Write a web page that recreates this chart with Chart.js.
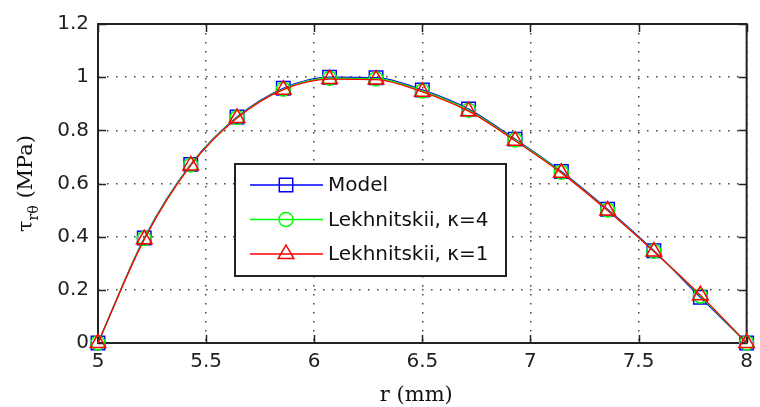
<!DOCTYPE html>
<html>
<head>
<meta charset="utf-8">
<script src="https://cdn.jsdelivr.net/npm/chart.js@4/dist/chart.umd.min.js"></script>
<style>
  body { margin: 0; background: #fff; }
  #wrap { width: 760px; height: 407px; position: relative; }
</style>
</head>
<body>
<div id="wrap"><canvas id="myChart"></canvas></div>
<script>
// r positions of the plotted markers (mm)
const r = [5, 5.214, 5.429, 5.643, 5.857, 6.071, 6.286, 6.5, 6.714, 6.929, 7.143, 7.357, 7.571, 7.786, 8];
const model = [0, 0.395, 0.672, 0.850, 0.958, 1.000, 0.998, 0.952, 0.880, 0.767, 0.645, 0.503, 0.347, 0.172, 0];
const lek4 = [0, 0.393, 0.670, 0.848, 0.955, 0.996, 0.994, 0.948, 0.876, 0.764, 0.642, 0.500, 0.345, 0.177, 0];
const lek1 = [0, 0.390, 0.668, 0.846, 0.953, 0.993, 0.991, 0.945, 0.872, 0.761, 0.640, 0.498, 0.344, 0.180, 0];
const xTicks = [5, 5.5, 6, 6.5, 7, 7.5, 8];
const yTicks = [0, 0.2, 0.4, 0.6, 0.8, 1, 1.2];
const seriesNames = ["Model", "Lekhnitskii, \u03ba=4", "Lekhnitskii, \u03ba=1"];

const toPts = (ys) => r.map((x, i) => ({ x: x, y: ys[i] }));

const styles = [
    { color: "#0000ff", point: "rect", radius: 9.5 },
    { color: "#00ff00", point: "circle", radius: 7 },
    { color: "#ff0000", point: "triangle", radius: 9 },
];

function makeSet(i, ys) {
    const s = styles[i];
    return {
        label: seriesNames[i],
        data: toPts(ys),
        borderColor: s.color,
        backgroundColor: s.color,
        borderWidth: 1.3,
        pointStyle: s.point,
        pointRadius: s.radius,
        pointBorderWidth: 1.5,
        pointBorderColor: s.color,
        pointBackgroundColor: "rgba(0,0,0,0)",
        cubicInterpolationMode: "monotone",
        clip: false,
        order: 2 - i, // red drawn last (on top)
    };
}

function drawMarker(ctx, style, x, y, rad) {
    ctx.beginPath();
    if (style === "rect") {
        const h = rad * Math.SQRT1_2;
        ctx.rect(x - h, y - h, 2 * h, 2 * h);
    } else if (style === "circle") {
        ctx.arc(x, y, rad, 0, Math.PI * 2);
    } else {
        ctx.moveTo(x, y - rad);
        ctx.lineTo(x + rad * 0.866, y + rad / 2);
        ctx.lineTo(x - rad * 0.866, y + rad / 2);
        ctx.closePath();
    }
    ctx.stroke();
}

// axes box with inward ticks, axis titles
const boxPlugin = {
    id: "matlabBox",
    beforeDatasetsDraw(chart) {
        const { ctx, chartArea: a, scales } = chart;
        ctx.save();
        ctx.strokeStyle = "#222";
        ctx.lineWidth = 2;
        ctx.strokeRect(a.left, a.top, a.right - a.left, a.bottom - a.top);
        ctx.lineWidth = 1.5;
        ctx.beginPath();
        xTicks.forEach((v) => {
            const px = Math.round(scales.x.getPixelForValue(v)) + 0.5;
            ctx.moveTo(px, a.bottom); ctx.lineTo(px, a.bottom - 8);
            ctx.moveTo(px, a.top); ctx.lineTo(px, a.top + 8);
        });
        yTicks.forEach((v) => {
            const py = Math.round(scales.y.getPixelForValue(v)) + 0.5;
            ctx.moveTo(a.left, py); ctx.lineTo(a.left + 8, py);
            ctx.moveTo(a.right, py); ctx.lineTo(a.right - 8, py);
        });
        ctx.stroke();

        // axis titles
        ctx.fillStyle = "#111";
        ctx.font = "21px 'DejaVu Serif'";
        ctx.textAlign = "center";
        ctx.textBaseline = "alphabetic";
        ctx.fillText("r (mm)", (a.left + a.right) / 2 - 6, 401);

        ctx.save();
        ctx.translate(32, (a.top + a.bottom) / 2);
        ctx.rotate(-Math.PI / 2);
        ctx.textAlign = "left";
        const main = "21px 'DejaVu Serif'", sub = "14px 'DejaVu Serif'";
        ctx.font = main;
        const wTau = ctx.measureText("\u03c4").width;
        const wTail = ctx.measureText(" (MPa)").width;
        ctx.font = sub;
        const wSub = ctx.measureText("r\u03b8").width;
        let x0 = -(wTau + wSub + wTail) / 2;
        ctx.font = main;
        ctx.fillText("\u03c4", x0, 0);
        ctx.font = sub;
        ctx.fillText("r\u03b8", x0 + wTau, 6);
        ctx.font = main;
        ctx.fillText(" (MPa)", x0 + wTau + wSub, 0);
        ctx.restore();
        ctx.restore();
    },
    afterDraw(chart) {
        const ctx = chart.ctx;
        const L = 235, T = 164, W = 271, H = 112;
        ctx.save();
        ctx.fillStyle = "#fff";
        ctx.fillRect(L, T, W, H);
        ctx.strokeStyle = "#222";
        ctx.lineWidth = 2;
        ctx.strokeRect(L, T, W, H);
        ctx.font = "20px 'DejaVu Sans'";
        ctx.textBaseline = "middle";
        ctx.textAlign = "left";
        seriesNames.forEach((name, i) => {
            const y = T + 21 + i * 34.5;
            const s = styles[i];
            ctx.strokeStyle = s.color;
            ctx.lineWidth = 1.5;
            ctx.beginPath();
            ctx.moveTo(L + 15, y); ctx.lineTo(L + 88, y);
            ctx.stroke();
            drawMarker(ctx, s.point, L + 51, y, s.radius);
            ctx.fillStyle = "#111";
            ctx.fillText(name, L + 93, y + 1);
        });
        ctx.restore();
    },
};

const config = {
    type: "line",
    data: {
        datasets: [makeSet(0, model), makeSet(1, lek4), makeSet(2, lek1)],
    },
    options: {
        responsive: true,
        maintainAspectRatio: false,
        animation: false,
        layout: { padding: { top: 24, right: 2, left: 0, bottom: 0 } },
        plugins: { legend: { display: false }, tooltip: { enabled: false } },
        scales: {
            x: {
                type: "linear",
                min: 5,
                max: 8,
                afterBuildTicks: (s) => { s.ticks = xTicks.map((v) => ({ value: v })); },
                afterFit: (s) => { s.height = 64; },
                ticks: {
                    color: "#222",
                    font: { family: "DejaVu Sans", size: 20 },
                    padding: 7,
                    maxRotation: 0,
                    callback: (v) => String(+v.toFixed(2)),
                },
                grid: { color: "#444", lineWidth: 1.5, drawTicks: false },
                border: { display: false, dash: [1.5, 7.5] },
            },
            y: {
                min: 0,
                max: 1.2,
                afterBuildTicks: (s) => { s.ticks = yTicks.map((v) => ({ value: v })); },
                afterFit: (s) => { s.width = 98; },
                ticks: {
                    color: "#222",
                    font: { family: "DejaVu Sans", size: 20 },
                    padding: 9,
                    callback: (v) => String(+v.toFixed(2)),
                },
                grid: { color: "#444", lineWidth: 1.5, drawTicks: false },
                border: { display: false, dash: [1.5, 7.5] },
            },
        },
    },
    plugins: [boxPlugin],
};

new Chart(document.getElementById("myChart"), config);
</script>
</body>
</html>
